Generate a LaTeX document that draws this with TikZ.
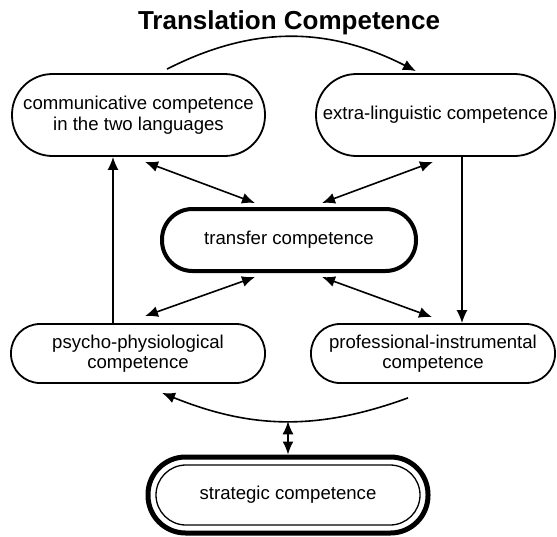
\documentclass[tikz,border=0pt]{standalone}
\usepackage{fontspec}
\setmainfont{Liberation Sans}
\usetikzlibrary{arrows.meta,calc}
\begin{document}
\begin{tikzpicture}[x=1pt,y=-1pt,
  box/.style={draw=black, line width=1.8pt, rounded corners=#1, inner sep=0pt, align=center,
    font=\fontsize{18.6}{20.5}\selectfont},
  arr/.style={line width=1.6pt, -{Latex[length=13pt,width=11pt]}},
  darr/.style={line width=1.6pt, {Latex[length=13pt,width=11pt]}-{Latex[length=13pt,width=11pt]}},
  curv/.style={line width=1.6pt, -{Latex[length=13pt,width=11pt]}}
]
\useasboundingbox (0,0) rectangle (557,536);
\node[anchor=base, font=\fontsize{26}{30}\selectfont\bfseries] (title) at (289,29) {Translation Competence};

\node[box=40.5pt, minimum width=253pt, minimum height=82pt] (comm) at (138.5,115) {communicative competence\\in the two languages};
\node[box=40.5pt, minimum width=239pt, minimum height=82pt] (extra) at (435.5,115) {extra-linguistic competence};
\node[box=30.5pt, line width=4pt, minimum width=254pt, minimum height=62pt] (transfer) at (289,240) {transfer competence};
\node[box=29pt, minimum width=254pt, minimum height=59pt] (psycho) at (138,353.5) {psycho-physiological\\competence};
\node[box=29pt, minimum width=244pt, minimum height=59pt] (prof) at (433,353.5) {professional-instrumental\\competence};
\node[box=37.5pt, line width=5pt, minimum width=280pt, minimum height=76pt] (strategic) at (288,495) {};
\node[box=30pt, line width=1.3pt, minimum width=264pt, minimum height=60pt] (strategicin) at (288,495) {strategic competence};

% top arc
\draw[curv] ([xshift=28.5pt,yshift=4pt]comm.north) to[out=27,in=153] ([xshift=-19.5pt,yshift=2pt]extra.north);
% verticals
\draw[arr] ([xshift=-25pt]psycho.north) -- ([xshift=-25pt]psycho.north |- comm.south);
\draw[arr] ([xshift=26.5pt]extra.south) -- ([xshift=26.5pt]extra.south |- prof.north);
% double arrows to transfer
\draw[darr] ([xshift=6.5pt,yshift=-5pt]comm.south) -- ([xshift=-34pt,yshift=4pt]transfer.north);
\draw[darr] ([xshift=-2.5pt,yshift=-5pt]extra.south) -- ([xshift=33pt,yshift=4pt]transfer.north);
\draw[darr] ([xshift=7pt,yshift=7pt]psycho.north) -- ([xshift=-34pt,yshift=-4pt]transfer.south);
\draw[darr] ([xshift=-1pt,yshift=6pt]prof.north) -- ([xshift=33pt,yshift=-4pt]transfer.south);
% bottom arc
\draw[curv] ([xshift=-25pt,yshift=-14pt]prof.south) to[out=200,in=-22] coordinate[pos=0.5] (arcmid) ([xshift=24pt,yshift=-9pt]psycho.south);
\draw[darr] (strategic.north |- arcmid) -- (strategic.north);
\end{tikzpicture}
\end{document}
